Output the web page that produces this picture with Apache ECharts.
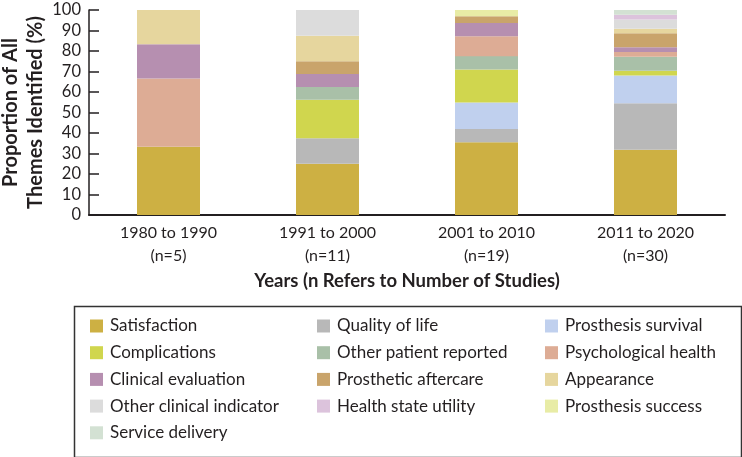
<!DOCTYPE html>
<html>
<head>
<meta charset="utf-8">
<script src="https://cdn.jsdelivr.net/npm/echarts@6/dist/echarts.min.js"></script>
<style>
  html, body { margin: 0; padding: 0; background: #fff; }
  #main { width: 742px; height: 457px; }
</style>
</head>
<body>
<div id="main"></div>
<script>
// periods on the x axis
var periods = ['1980 to 1990\n(n=5)', '1991 to 2000\n(n=11)', '2001 to 2010\n(n=19)', '2011 to 2020\n(n=30)'];

// share of all themes (%) per period, bottom to top of each bar
var satisfaction = [33.3, 25, 35.5, 31.8];
var qualityOfLife = [0, 12.5, 6.5, 22.7];
var prosthesisSurvival = [0, 0, 12.9, 13.6];
var complications = [0, 18.75, 16.1, 2.3];
var otherPatientReported = [0, 6.25, 6.5, 6.8];
var psychologicalHealth = [33.3, 0, 9.7, 2.3];
var clinicalEvaluation = [16.7, 6.25, 6.5, 2.3];
var prostheticAftercare = [0, 6.25, 3.2, 6.8];
var appearance = [16.7, 12.5, 0, 2.3];
var otherClinicalIndicator = [0, 12.5, 0, 4.5];
var healthStateUtility = [0, 0, 0, 2.3];
var prosthesisSuccess = [0, 0, 3.1, 0];
var serviceDelivery = [0, 0, 0, 2.3];

var yTicks = [0, 10, 20, 30, 40, 50, 60, 70, 80, 90, 100];

var themes = [
  { name: 'Satisfaction', data: satisfaction, color: '#CDB043' },
  { name: 'Quality of life', data: qualityOfLife, color: '#B8B8B8' },
  { name: 'Prosthesis survival', data: prosthesisSurvival, color: '#C0D0EE' },
  { name: 'Complications', data: complications, color: '#D0D64E' },
  { name: 'Other patient reported', data: otherPatientReported, color: '#A9C0A8' },
  { name: 'Psychological health', data: psychologicalHealth, color: '#DDAC95' },
  { name: 'Clinical evaluation', data: clinicalEvaluation, color: '#B68FB0' },
  { name: 'Prosthetic aftercare', data: prostheticAftercare, color: '#C9A46B' },
  { name: 'Appearance', data: appearance, color: '#E6D69E' },
  { name: 'Other clinical indicator', data: otherClinicalIndicator, color: '#DCDCDC' },
  { name: 'Health state utility', data: healthStateUtility, color: '#DCC3DC' },
  { name: 'Prosthesis success', data: prosthesisSuccess, color: '#E8ECA6' },
  { name: 'Service delivery', data: serviceDelivery, color: '#D3E1D3' }
];

var font = 'Lato, "Noto Sans", sans-serif';
var textColor = '#231F20';

var series = themes.map(function (t) {
  return {
    name: t.name,
    type: 'bar',
    stack: 'all',
    barWidth: 63,
    itemStyle: { color: t.color },
    data: t.data
  };
});

// legend laid out in three columns like the original key
function legendColumn(left, names) {
  return {
    orient: 'vertical',
    left: left,
    top: 316,
    padding: 0,
    itemWidth: 13,
    itemHeight: 13,
    itemGap: 6.7,
    icon: 'rect',
    selectedMode: false,
    textStyle: {
      fontFamily: font,
      fontSize: 17,
      color: textColor,
      lineHeight: 20,
      padding: [0, 0, 0, 2]
    },
    data: names
  };
}

var myChart = echarts.init(document.getElementById('main'));
var option = {
  animation: false,
  backgroundColor: '#fff',
  grid: { left: 89, right: 17, top: 10, bottom: 242, outerBoundsMode: 'none', containLabel: false },
  legend: [
    legendColumn(90, ['Satisfaction', 'Complications', 'Clinical evaluation', 'Other clinical indicator', 'Service delivery']),
    legendColumn(317, ['Quality of life', 'Other patient reported', 'Prosthetic aftercare', 'Health state utility']),
    legendColumn(545, ['Prosthesis survival', 'Psychological health', 'Appearance', 'Prosthesis success'])
  ],
  graphic: [
    {
      type: 'rect',
      left: 72,
      top: 304,
      shape: { width: 667, height: 151 },
      style: { fill: 'none', stroke: '#333', lineWidth: 1.5 },
      silent: true
    }
  ],
  xAxis: {
    type: 'category',
    data: periods,
    name: 'Years (n Refers to Number of Studies)',
    nameLocation: 'middle',
    nameGap: 55,
    nameMoveOverlap: false,
    nameTextStyle: { fontFamily: font, fontSize: 18.5, fontWeight: 'bold', color: textColor, lineHeight: 22 },
    axisLine: { lineStyle: { color: '#231F20', width: 2 } },
    axisTick: { show: false },
    axisLabel: {
      fontFamily: font,
      fontSize: 16,
      color: textColor,
      lineHeight: 23,
      margin: 6
    }
  },
  yAxis: {
    type: 'value',
    min: yTicks[0],
    max: yTicks[yTicks.length - 1],
    interval: 10,
    name: 'Proportion of All\nThemes Identified (%)',
    nameLocation: 'middle',
    nameGap: 41,
    nameMoveOverlap: false,
    nameTextStyle: { fontFamily: font, fontSize: 20, fontWeight: 'bold', color: textColor, lineHeight: 25 },
    axisLine: { show: true, lineStyle: { color: '#231F20', width: 1.5 } },
    axisTick: { show: true, inside: true, length: 10, lineStyle: { color: '#231F20', width: 1.5 } },
    splitLine: { show: false },
    axisLabel: { fontFamily: font, fontSize: 16.5, color: textColor, margin: 8 }
  },
  series: series
};
myChart.setOption(option);
</script>
</body>
</html>
